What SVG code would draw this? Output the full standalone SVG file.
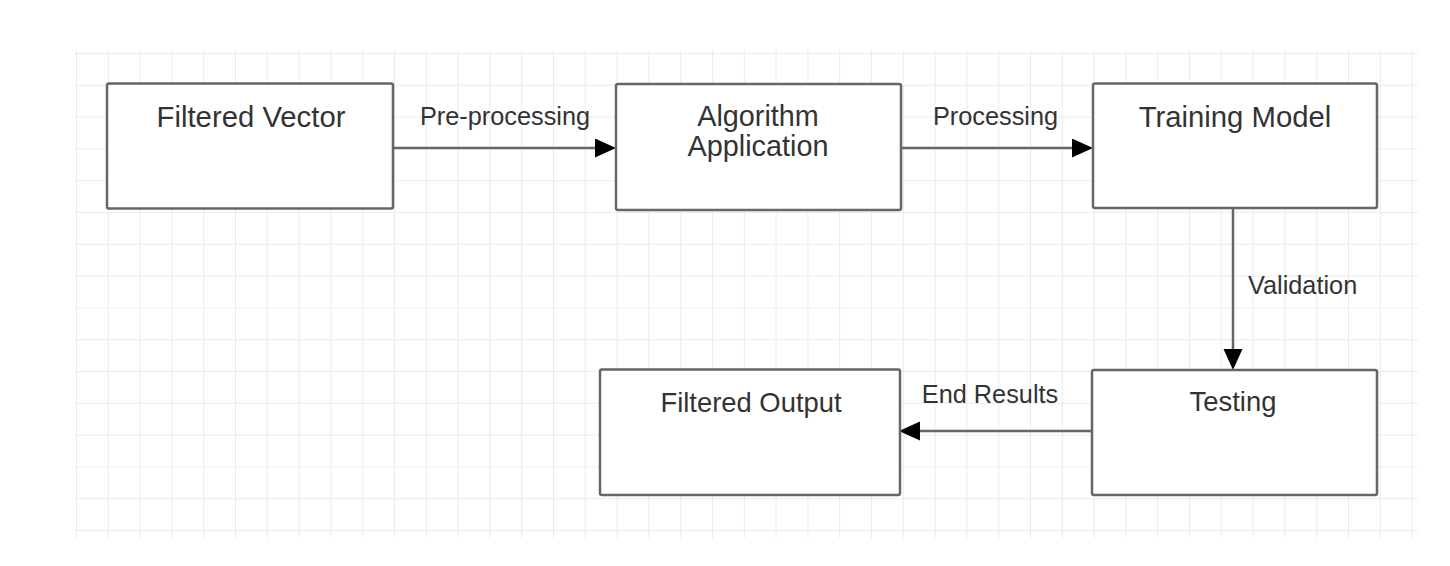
<svg xmlns="http://www.w3.org/2000/svg" width="1450" height="566" viewBox="0 0 1450 566">
  <style>
    .node { fill: #ffffff; stroke: #666666; stroke-width: 2.5; }
    .ntext { font-family: "Liberation Sans", Arial, sans-serif; fill: #333333; text-anchor: middle; }
    .top { font-size: 29.3px; }
    .two { font-size: 28.8px; }
    .bot { font-size: 27.4px; }
    .edge { fill: none; stroke: #666666; stroke-width: 2.5; marker-end: url(#arrow); }
    .elabel { font-family: "Liberation Sans", Arial, sans-serif; font-size: 25.3px; fill: #333333; }
  </style>
  <defs>
    <pattern id="grid" x="76" y="53" width="31.8" height="31.8" patternUnits="userSpaceOnUse">
      <path d="M0,0 V31.8 M0,0 H31.8" fill="none" stroke="#e6e6e6" stroke-width="1.6"/>
    </pattern>
    <marker id="arrow" markerUnits="userSpaceOnUse" markerWidth="22" markerHeight="20" refX="0" refY="9.5" orient="auto">
      <path d="M0,0 L21,9.5 L0,19 Z" fill="#000000"/>
    </marker>
  </defs>
  <rect width="1450" height="566" fill="#ffffff"/>
  <rect x="75" y="50" width="1343" height="488" fill="url(#grid)"/>

  <g id="connectors">
    <g id="e-preprocessing">
      <path class="edge" d="M394,148 H595"/>
      <text class="elabel" x="505" y="125" text-anchor="middle">Pre-processing</text>
    </g>
    <g id="e-processing">
      <path class="edge" d="M901,148 H1072"/>
      <text class="elabel" x="995.5" y="125" text-anchor="middle">Processing</text>
    </g>
    <g id="e-validation">
      <path class="edge" d="M1233,208 V349"/>
      <text class="elabel" x="1248" y="294">Validation</text>
    </g>
    <g id="e-endresults">
      <path class="edge" d="M1092,431 H920"/>
      <text class="elabel" x="990" y="403" text-anchor="middle">End Results</text>
    </g>
  </g>

  <g id="n-filtered-vector">
    <rect class="node" x="107" y="83.5" width="286" height="125" rx="2"/>
    <text class="ntext top" x="251" y="127">Filtered Vector</text>
  </g>
  <g id="n-algorithm-application">
    <rect class="node" x="616" y="84" width="285" height="126" rx="2"/>
    <text class="ntext two" x="758" y="126.3">Algorithm</text>
    <text class="ntext two" x="758" y="155.5">Application</text>
  </g>
  <g id="n-training-model">
    <rect class="node" x="1093" y="83.5" width="284" height="124.5" rx="2"/>
    <text class="ntext top" x="1235" y="127.3">Training Model</text>
  </g>
  <g id="n-testing">
    <rect class="node" x="1092" y="370" width="285" height="125" rx="2"/>
    <text class="ntext bot" x="1233" y="410.5">Testing</text>
  </g>
  <g id="n-filtered-output">
    <rect class="node" x="600" y="369.5" width="300" height="125.5" rx="2"/>
    <text class="ntext bot" x="751" y="411.5">Filtered Output</text>
  </g>
</svg>
